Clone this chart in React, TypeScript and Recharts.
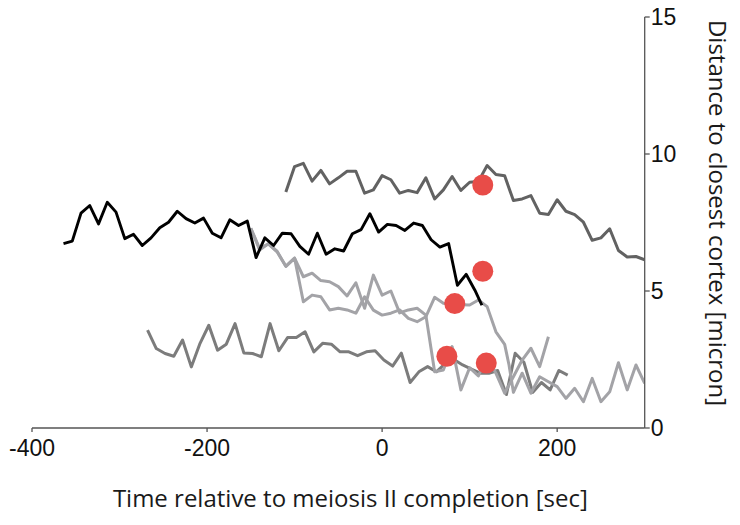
import React from 'react';
import { ComposedChart, Line, XAxis, YAxis } from 'recharts';

// ---- data (time in sec, distance in micron) ----
const blackT = [-364, -354, -344, -334, -324, -314, -304, -294, -284, -274, -264, -254, -244, -234, -224, -214, -204, -194, -184, -174, -164, -154, -144, -134, -124, -114, -104, -94, -84, -74, -64, -54, -44, -34, -24, -14, -4, 6, 16, 26, 36, 46, 56, 66, 76, 86, 96, 106, 114];
const blackD = [6.73, 6.82, 7.84, 8.12, 7.45, 8.24, 7.88, 6.91, 7.07, 6.66, 6.94, 7.31, 7.51, 7.91, 7.64, 7.48, 7.66, 7.11, 6.94, 7.6, 7.39, 7.55, 6.22, 6.94, 6.66, 7.11, 7.09, 6.63, 6.34, 7.11, 6.34, 6.54, 6.46, 7.09, 7.24, 7.82, 7.15, 7.43, 7.39, 7.21, 7.48, 7.39, 6.87, 6.6, 6.73, 5.21, 5.61, 5.03, 4.48];

const topT = [-110, -100, -90, -80, -70, -60, -50, -40, -30, -20, -10, 0, 10, 20, 30, 40, 50, 60, 70, 80, 90, 100, 110, 120, 130, 140, 150, 160, 170, 180, 190, 200, 210, 220, 230, 240, 250, 260, 270, 280, 290, 300];
const topD = [8.61, 9.54, 9.66, 9.01, 9.4, 8.91, 9.13, 9.37, 9.37, 8.57, 8.69, 9.21, 9.06, 8.57, 8.67, 8.59, 9.13, 8.36, 8.69, 9.18, 8.67, 8.97, 9.0, 9.58, 9.25, 9.21, 8.3, 8.36, 8.48, 7.84, 7.79, 8.33, 7.91, 7.79, 7.51, 6.85, 6.94, 7.27, 6.48, 6.24, 6.26, 6.14];

const lowT = [-268, -258, -248, -238, -228, -218, -208, -198, -188, -178, -168, -158, -148, -138, -128, -118, -108, -98, -88, -78, -68, -58, -48, -38, -28, -18, -8, 2, 12, 22, 32, 42, 52, 62, 72, 82, 92, 102, 112, 122, 132, 142, 152, 162, 172, 182, 192, 202, 212];
const lowD = [3.57, 2.9, 2.72, 2.62, 3.21, 2.23, 3.09, 3.75, 2.84, 3.06, 3.81, 2.74, 2.72, 2.6, 3.81, 2.82, 3.3, 3.3, 3.51, 2.78, 3.09, 3.06, 2.78, 2.78, 2.64, 2.78, 2.82, 2.48, 2.26, 2.73, 1.66, 2.05, 2.24, 2.05, 2.35, 2.5, 2.3, 2.15, 2.0, 2.0, 2.1, 1.22, 2.73, 2.4, 1.3, 1.66, 1.39, 2.1, 1.93];

const lightAT = [-150, -140, -130, -120, -110, -100, -90, -80, -70, -60, -50, -40, -30, -20, -10, 0, 10, 20, 30, 40, 50, 60, 70, 80, 90, 100, 110, 120, 130, 140, 145, 150, 160, 170, 180, 190, 200, 210, 220, 230, 240, 250, 260, 270, 280, 290, 300];
const lightAD = [7.29, 6.5, 6.72, 6.43, 5.9, 6.2, 4.61, 4.85, 4.79, 4.31, 4.37, 4.31, 4.19, 4.79, 4.3, 4.12, 4.19, 4.31, 4.0, 3.88, 4.06, 4.77, 4.55, 4.5, 4.5, 4.49, 4.67, 4.43, 3.51, 3.05, 2.3, 1.3, 2.0, 1.27, 1.87, 1.69, 1.51, 1.08, 1.45, 0.96, 1.81, 0.96, 1.32, 2.38, 1.39, 2.3, 1.63];

const lightBT = [-150, -140, -130, -120, -110, -100, -90, -80, -70, -60, -50, -40, -30, -20, -10, 0, 10, 20, 30, 40, 50, 60, 70, 80, 90, 100, 110, 120, 130, 140, 150, 160, 170, 180, 190];
const lightBD = [7.29, 6.55, 6.72, 6.45, 5.9, 6.2, 5.52, 5.65, 5.38, 5.34, 5.16, 4.82, 5.3, 4.37, 5.58, 4.85, 5.0, 4.2, 4.31, 4.37, 4.12, 2.05, 2.12, 2.97, 1.39, 2.2, 1.9, 2.6, 2.0, 1.27, 1.87, 2.48, 2.91, 2.24, 3.33];

const eventT = [115, 115, 83, 74, 119];
const eventD = [8.87, 5.72, 4.54, 2.62, 2.37];

const xTicks = [-400, -200, 0, 200];
const yTicks = [0, 5, 10, 15];
const xTitle = 'Time relative to meiosis II completion [sec]';
const yTitle = 'Distance to closest cortex [micron]';

const pts = (t: number[], d: number[]) => t.map((x, i) => ({ t: x, d: d[i] }));

const AXIS = '#555555';
const TICK_FONT = '"Liberation Sans", Arial, sans-serif';
const TITLE_FONT = '"Open Sans", "Noto Sans", sans-serif';

const XTitle = (props: any) => {
  const vb = props.viewBox || { x: 32, y: 428, width: 612.7, height: 97 };
  return (
    <text x={vb.x + vb.width / 2 + 12} y={vb.y + 69} textAnchor="middle" dominantBaseline="central"
      fontFamily={TITLE_FONT} fontSize={24} fill="#1a1a1a">{xTitle}</text>
  );
};

const YTitle = (props: any) => {
  const vb = props.viewBox || { x: 644.7, y: 17, width: 90.3, height: 411 };
  const cx = vb.x + 73.8;
  const cy = 213;
  return (
    <text x={cx} y={cy} textAnchor="middle" dominantBaseline="central" transform={`rotate(90, ${cx}, ${cy})`}
      fontFamily={TITLE_FONT} fontSize={24} fill="#1a1a1a">{yTitle}</text>
  );
};

export default function App() {
  return (
    <div style={{ position: 'absolute', left: 0, top: 0, width: 740, height: 525, background: '#fff' }}>
      <ComposedChart width={740} height={525} margin={{ top: 17, right: 5, left: 32, bottom: 0 }}>
        <XAxis type="number" dataKey="t" domain={[-400, 300]} ticks={xTicks} allowDataOverflow height={97}
          axisLine={{ stroke: AXIS, strokeWidth: 1.3 }} tickLine={{ stroke: AXIS, strokeWidth: 1.3 }}
          tickSize={4} tickMargin={8} tick={{ fill: '#111', fontSize: 23, fontFamily: TICK_FONT }}
          label={{ content: XTitle }} />
        <YAxis type="number" orientation="right" domain={[0, 15]} ticks={yTicks} width={90.3}
          axisLine={{ stroke: AXIS, strokeWidth: 1.3 }} tickLine={{ stroke: AXIS, strokeWidth: 1.3 }}
          tickSize={5} tickMargin={1} tick={{ fill: '#111', fontSize: 23, fontFamily: TICK_FONT, textAnchor: 'start' }}
          label={{ content: YTitle }} />
        <Line data={pts(lowT, lowD)} dataKey="d" stroke="#7c7c7c" strokeWidth={3} dot={false} activeDot={false} strokeLinejoin="round" isAnimationActive={false} />
        <Line data={pts(lightBT, lightBD)} dataKey="d" stroke="#a3a3a7" strokeWidth={3} dot={false} activeDot={false} strokeLinejoin="round" isAnimationActive={false} />
        <Line data={pts(lightAT, lightAD)} dataKey="d" stroke="#a3a3a7" strokeWidth={3} dot={false} activeDot={false} strokeLinejoin="round" isAnimationActive={false} />
        <Line data={pts(topT, topD)} dataKey="d" stroke="#626262" strokeWidth={3} dot={false} activeDot={false} strokeLinejoin="round" isAnimationActive={false} />
        <Line data={pts(blackT, blackD)} dataKey="d" stroke="#000000" strokeWidth={2.9} dot={false} activeDot={false} strokeLinejoin="round" isAnimationActive={false} />
        <Line data={pts(eventT, eventD)} dataKey="d" stroke="none" dot={{ r: 10.5, fill: '#e84c48', stroke: 'none', strokeWidth: 0 }} activeDot={false} isAnimationActive={false} />
      </ComposedChart>
    </div>
  );
}
